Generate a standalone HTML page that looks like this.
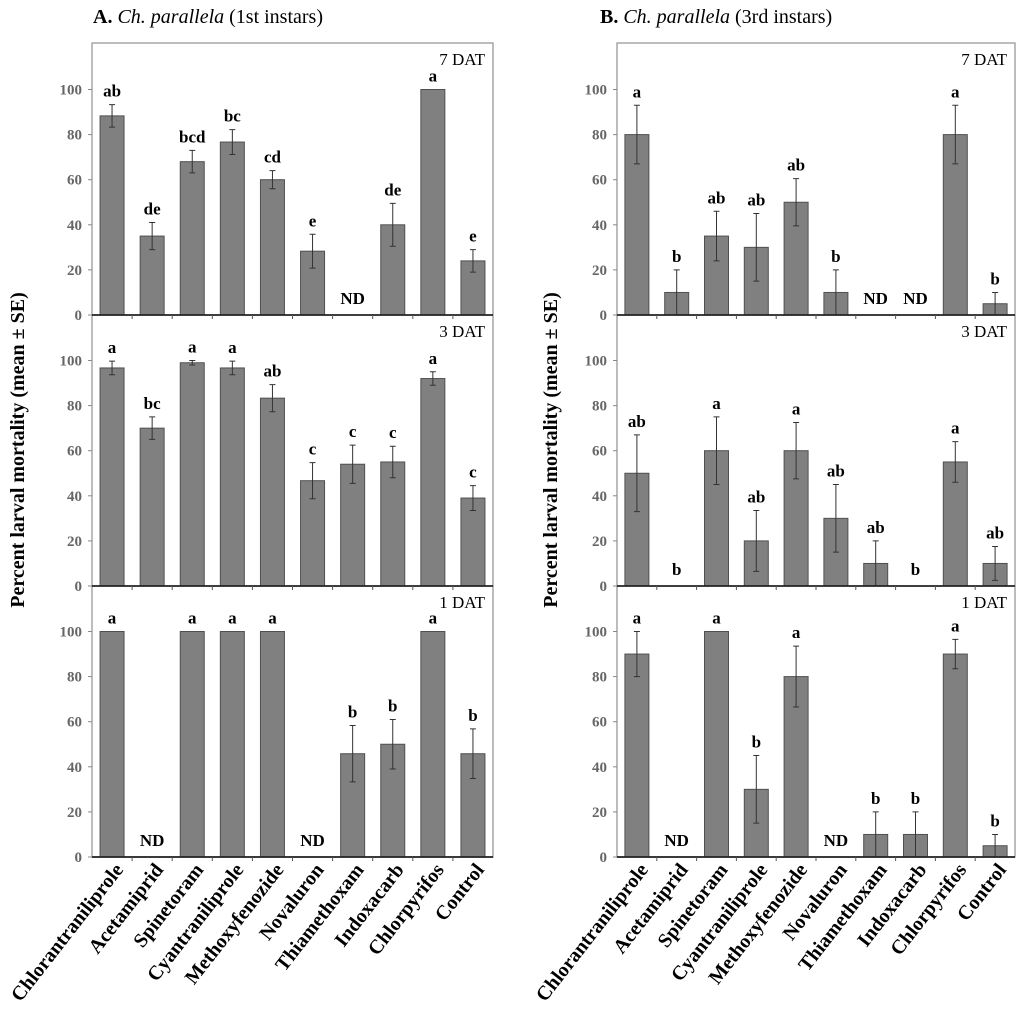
<!DOCTYPE html>
<html><head><meta charset="utf-8"><style>
html,body{margin:0;padding:0;background:#fff}
svg{display:block;font-family:"Liberation Serif",serif}
</style></head><body>
<svg id="chart" width="1024" height="1019" viewBox="0 0 1024 1019" xmlns="http://www.w3.org/2000/svg">
<text x="93" y="23" font-size="20"><tspan font-weight="bold">A.</tspan> <tspan font-style="italic">Ch. parallela</tspan> (1st instars)</text>
<text x="600" y="23" font-size="20"><tspan font-weight="bold">B.</tspan> <tspan font-style="italic">Ch. parallela</tspan> (3rd instars)</text>
<text transform="translate(24,450) rotate(-90)" text-anchor="middle" font-size="20" font-weight="bold">Percent larval mortality (mean ± SE)</text>
<text transform="translate(557,450) rotate(-90)" text-anchor="middle" font-size="20" font-weight="bold">Percent larval mortality (mean ± SE)</text>
</svg>
<script>
const categories=["Chlorantraniliprole","Acetamiprid","Spinetoram","Cyantraniliprole","Methoxyfenozide","Novaluron","Thiamethoxam","Indoxacarb","Chlorpyrifos","Control"];
const dayLabels=["7 DAT","3 DAT","1 DAT"];
const yTicks=[0,20,40,60,80,100];
// Panel A (1st instars); null = ND
const a7=[88.3,35,68,76.7,60,28.3,null,40,100,24];
const a7se=[5,6,5,5.5,4,7.5,0,9.5,0,5];
const a7let=["ab","de","bcd","bc","cd","e","ND","de","a","e"];
const a3=[96.7,70,99,96.7,83.3,46.7,54,55,92,39];
const a3se=[3,5,1,3,6,8,8.5,7,3,5.5];
const a3let=["a","bc","a","a","ab","c","c","c","a","c"];
const a1=[100,null,100,100,100,null,45.8,50,100,45.8];
const a1se=[0,0,0,0,0,0,12.5,11,0,11];
const a1let=["a","ND","a","a","a","ND","b","b","a","b"];
// Panel B (3rd instars)
const b7=[80,10,35,30,50,10,null,null,80,5];
const b7se=[13,10,11,15,10.5,10,0,0,13,5];
const b7let=["a","b","ab","ab","ab","b","ND","ND","a","b"];
const b3=[50,0,60,20,60,30,10,0,55,10];
const b3se=[17,0,15,13.5,12.5,15,10,0,9,7.5];
const b3let=["ab","b","a","ab","a","ab","ab","b","a","ab"];
const b1=[90,null,100,30,80,null,10,10,90,5];
const b1se=[10,0,0,15,13.5,0,10,10,6.5,5];
const b1let=["a","ND","a","b","a","ND","b","b","a","b"];

const NS="http://www.w3.org/2000/svg";
const svg=document.getElementById('chart');
function mk(tag,attrs,parent){const e=document.createElementNS(NS,tag);for(const k in attrs)e.setAttribute(k,attrs[k]);(parent||svg).appendChild(e);return e;}

const panels=[
 {key:'a',left:92,right:493,subs:[[a7,a7se,a7let],[a3,a3se,a3let],[a1,a1se,a1let]]},
 {key:'b',left:617,right:1015,subs:[[b7,b7se,b7let],[b3,b3se,b3let],[b1,b1se,b1let]]}
];
const zeros=[315,586,857];
const tops=[43,315,586];
const k=2.255;
panels.forEach(p=>{
  const cw=(p.right-p.left)/categories.length;
  const xC=i=>p.left+cw*(i+0.5);
  const frame=mk('rect',{x:p.left,y:43,width:p.right-p.left,height:857-43,fill:'none',stroke:'#999','stroke-width':1.3});
  
  
  p.subs.forEach((s,si)=>{
    const z=zeros[si];
    const yS=v=>z-v*k;
    const g=mk('g',{});
    
    
    yTicks.forEach(t=>{
      const tl=mk('text',{x:p.left-10,y:yS(t)+5,'text-anchor':'end','font-size':15,'font-weight':'bold',fill:'#666'},g);
      tl.textContent=t;
      
      
      mk('line',{x1:p.left-4,x2:p.left,y1:yS(t),y2:yS(t),stroke:'#888'},g);
    });
    const dl=mk('text',{x:p.right-8,y:tops[si]+22,'text-anchor':'end','font-size':17},g);
    dl.textContent=dayLabels[si];
    
    
    const [vals,ses,lets]=s;
    vals.forEach((v,i)=>{
      const cx=xC(i);
      let labY;
      if(v===null||v===0){
        labY=z-11;
      } else {
        const bar=mk('rect',{x:cx-12,y:yS(v),width:24,height:v*k,fill:'#808080',stroke:'#505050','stroke-width':1},g);
        
        
        const se=ses[i];
        if(se>0){
          const eb=mk('path',{d:`M${cx},${yS(v+se)}V${yS(v-se)}M${cx-3},${yS(v+se)}H${cx+3}M${cx-3},${yS(v-se)}H${cx+3}`,stroke:'#333','stroke-width':1,fill:'none'},g);
          
          
        }
        labY=yS(v+se)-8;
      }
      const lt=mk('text',{x:cx,y:labY,'text-anchor':'middle','font-size':17,'font-weight':'bold'},g);
      lt.textContent=lets[i];
      
      
    });
    mk('line',{x1:p.left,x2:p.right,y1:z,y2:z,stroke:'#222','stroke-width':1.8},g);
    for(let i=1;i<categories.length;i++) mk('line',{x1:p.left+cw*i,x2:p.left+cw*i,y1:z,y2:z+4,stroke:'#555'},g);
  });
  categories.forEach((c,i)=>{
    const t=mk('text',{transform:`translate(${xC(i)+12},870) rotate(-52)`,'text-anchor':'end','font-size':20,'font-weight':'bold'});
    t.textContent=c;
    
    
  });
});
</script>
</body></html>
